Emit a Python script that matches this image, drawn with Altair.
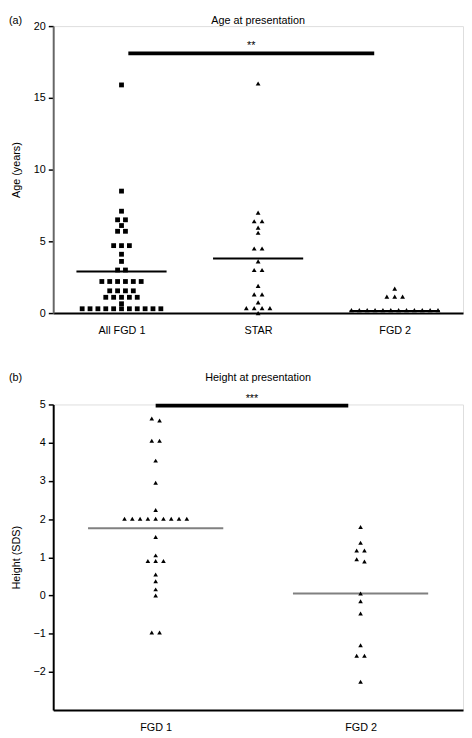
import altair as alt
import pandas as pd

# ---------------- Panel (a): Age at presentation ----------------
groups_a = ["All FGD 1", "STAR", "FGD 2"]
age_fgd1 = [15.9, 8.5, 7.1, 6.5, 6.5, 6.1, 5.7, 5.7, 4.7, 4.7, 4.7, 4.1, 3.6,
            3.0, 3.0, 2.2, 2.2, 2.2, 2.2, 2.2, 2.2, 1.55, 1.55, 1.55, 1.55,
            1.1, 1.1, 1.1, 1.1, 1.1, 0.65,
            0.3, 0.3, 0.3, 0.3, 0.3, 0.3, 0.3, 0.3, 0.3, 0.3, 0.3]
age_star = [16.0, 7.0, 6.4, 6.4, 5.95, 5.6, 4.5, 4.5, 3.6, 3.0, 3.0, 1.9,
            1.3, 1.3, 0.75, 0.35, 0.35, 0.35, 0.35, 0.0]
age_fgd2 = [1.7, 1.15, 1.15, 1.15,
            0.2, 0.2, 0.2, 0.2, 0.2, 0.2, 0.2, 0.2, 0.2, 0.2, 0.2, 0.2]
median_age = [2.9, 3.8, 0.15]
age_ticks = [0, 5, 10, 15, 20]
sig_a = {"from": 0.55, "to": 2.35, "y": 18.1, "label": "**"}

# ---------------- Panel (b): Height at presentation ----------------
groups_b = ["FGD 1", "FGD 2"]
height_fgd1 = [4.63, 4.58, 4.05, 4.05, 3.53, 2.95, 2.24,
               2.01, 2.01, 2.01, 2.01, 2.01, 2.01, 2.01, 2.01, 2.01,
               1.53, 1.05, 0.9, 0.9, 0.9, 0.55, 0.37, 0.16, 0.0, -0.97, -0.97]
height_fgd2 = [1.79, 1.38, 1.18, 1.18, 0.95, 0.89, 0.05, -0.15, -0.47,
               -1.3, -1.58, -1.58, -2.26]
median_height = [1.76, 0.05]
height_ticks = [-2, -1, 0, 1, 2, 3, 4, 5]
sig_b = {"from": 0.5, "to": 1.44, "y": 4.97, "label": "***"}

FONT = "Liberation Sans"


def swarm(values, center, tol, step):
    """Spread near-equal values horizontally around the group centre."""
    rows, cur = [], []
    for v in sorted(values, reverse=True):
        if cur and cur[0] - v > tol:
            rows.append(cur)
            cur = []
        cur.append(v)
    if cur:
        rows.append(cur)
    out = []
    for r in rows:
        n = len(r)
        for k, v in enumerate(r):
            out.append((center + (k - (n - 1) / 2) * step, v))
    return out


def label_expr(groups):
    expr = f"'{groups[-1]}'"
    for i in reversed(range(len(groups) - 1)):
        expr = f"datum.value < {i + 1} ? '{groups[i]}' : " + expr
    return expr


def panel(groups, series, medians, ticks, sig, ytitle, title, tag, w, h, head_y,
          tol, step, shapes, size, median_color, median_width, ydom_color, lab_pad):
    rows = []
    for gi, (g, vals) in enumerate(zip(groups, series)):
        for xv, yv in swarm(vals, gi + 0.5, tol, step):
            rows.append({"group": g, "x": xv, "y": yv})
    pts = pd.DataFrame(rows)
    med = pd.DataFrame({"group": groups, "m": medians,
                        "x1": [i + 0.5 - 0.33 for i in range(len(groups))],
                        "x2": [i + 0.5 + 0.33 for i in range(len(groups))]})
    sig_df = pd.DataFrame([sig])
    head_df = pd.DataFrame({"tag": [tag], "title": [title]})
    n = len(groups)

    xscale = alt.Scale(domain=[0, n], nice=False, zero=False)
    ymin = ticks[0] if ticks[0] >= 0 else ticks[0] - 1
    yscale = alt.Scale(domain=[ymin, ticks[-1]], nice=False, zero=False)

    xax = alt.Axis(values=[i + 0.5 for i in range(n)], labelExpr=label_expr(groups),
                   ticks=False, title=None, grid=False, labelFont=FONT, labelFontSize=11,
                   labelColor="black", domainColor="black", domainWidth=2, labelPadding=lab_pad)
    yax = alt.Axis(values=ticks, title=ytitle, grid=False, labelFont=FONT, labelFontSize=11,
                   labelColor="black", titleFont=FONT, titleFontSize=11, titleFontWeight="normal",
                   titleColor="black", domainColor=ydom_color, domainWidth=2, tickColor="black",
                   tickSize=5, tickWidth=1.5, labelPadding=3, titlePadding=12)

    points = alt.Chart(pts).mark_point(filled=True, color="black", fill="black", size=size,
                                       opacity=1).encode(
        x=alt.X("x:Q", scale=xscale, axis=xax),
        y=alt.Y("y:Q", scale=yscale, axis=yax),
        shape=alt.Shape("group:N", scale=alt.Scale(domain=groups, range=shapes), legend=None),
    )
    medians_l = alt.Chart(med).mark_rule(color=median_color, strokeWidth=median_width).encode(
        x="x1:Q", x2="x2:Q", y="m:Q")
    bar = alt.Chart(sig_df).mark_rule(color="black", strokeWidth=4).encode(
        x="from:Q", x2="to:Q", y="y:Q")
    stars = alt.Chart(sig_df).mark_text(font=FONT, fontSize=11, baseline="bottom", dy=-2,
                                        fill="black", color="black").encode(
        x=alt.X("mid:Q"), y="y:Q", text="label:N").transform_calculate(
        mid="(datum['from'] + datum['to']) / 2")
    tag_t = alt.Chart(head_df).mark_text(font=FONT, fontSize=11, align="left", baseline="middle",
                                         fill="black", color="black").encode(
        x=alt.value(-45), y=alt.value(head_y), text="tag:N")
    title_t = alt.Chart(head_df).mark_text(font=FONT, fontSize=11, align="center",
                                           baseline="middle", fill="black", color="black").encode(
        x=alt.value(w / 2), y=alt.value(head_y), text="title:N")

    return alt.layer(medians_l, bar, stars, points, tag_t, title_t).properties(
        width=w, height=h)


pa = panel(groups_a, [age_fgd1, age_star, age_fgd2], median_age, age_ticks, sig_a,
           "Age (years)", "Age at presentation", "(a)", 417, 292, -5,
           0.34, 0.0576, ["square", "triangle-up", "triangle-up"], 24, "black", 2, "#666", 12)
pb = panel(groups_b, [height_fgd1, height_fgd2], median_height, height_ticks, sig_b,
           "Height (SDS)", "Height at presentation", "(b)", 417, 311, -27,
           0.13, 0.038, ["triangle-up", "triangle-up"], 22, "#808080", 2, "black", 12)

chart = alt.vconcat(pa, pb, spacing=35).resolve_scale(
    shape="independent", x="independent", y="independent"
).properties(
    padding={"left": 0, "top": 0, "right": 0, "bottom": 0}
).configure_view(stroke=None).configure(background="white")

chart.save("out.html", embed_options={"renderer": "svg", "actions": False})
